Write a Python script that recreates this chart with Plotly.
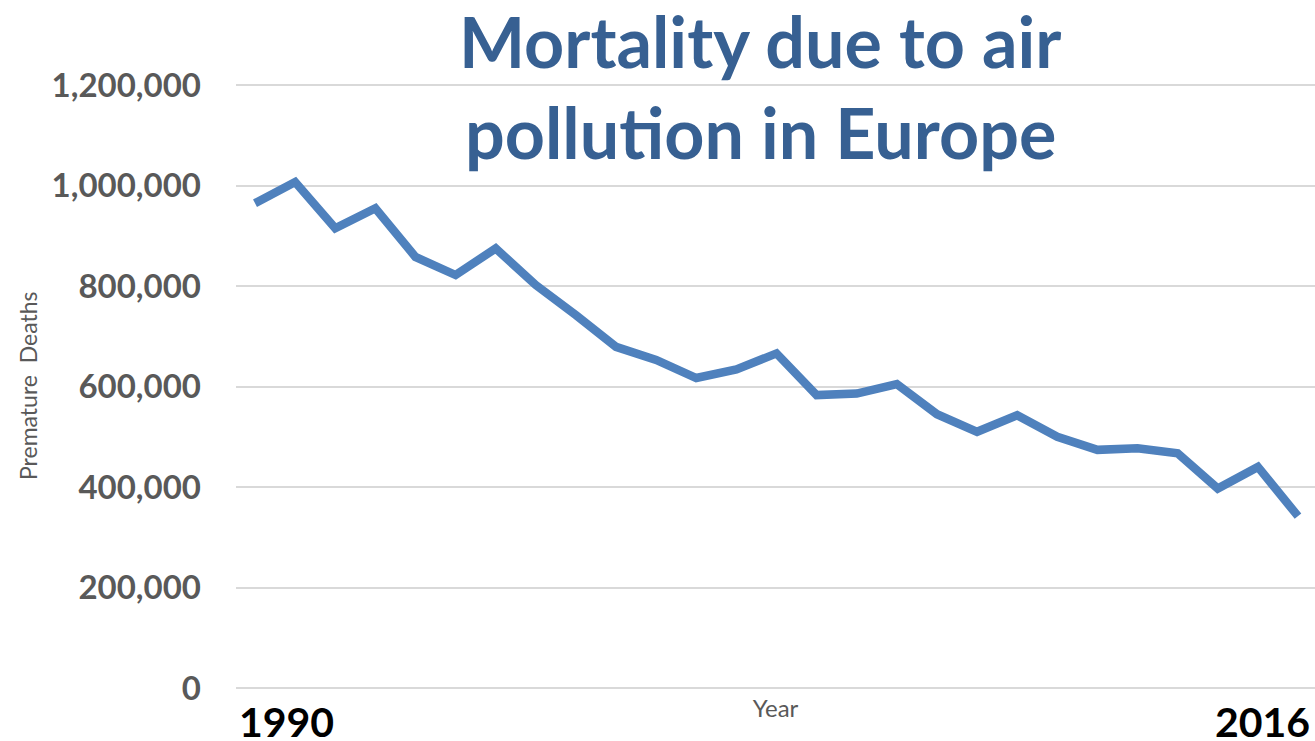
import plotly.graph_objects as go

years = list(range(1990, 2017))
deaths = [965000, 1007000, 915000, 955000, 858000, 822000, 875000, 802000, 742000,
          679000, 653000, 617000, 634000, 666000, 583000, 586000, 605000, 545000,
          510000, 543000, 500000, 474000, 477000, 467000, 397000, 440000, 342000]
y_ticks = [0, 200000, 400000, 600000, 800000, 1000000, 1200000]
y_tick_text = ["0", "200,000", "400,000", "600,000", "800,000", "1,000,000", "1,200,000"]
title_lines = ["Mortality due to air", "pollution in Europe"]
y_title = "Premature\u00a0\u00a0Deaths"
x_title = "Year"
first_label, last_label = "1990", "2016"

W, H = 1315, 741
L, R, T, B = 236, 0, 60, 53
PW, PH = W - L - R, H - T - B

fig = go.Figure()
fig.add_trace(go.Scatter(
    x=years, y=deaths, mode="lines",
    line=dict(color="#4F81BD", width=8.5),
    hoverinfo="x+y", showlegend=False,
))

fig.update_layout(
    width=W, height=H,
    margin=dict(l=L, r=R, t=T, b=B, pad=0),
    paper_bgcolor="white", plot_bgcolor="white",
    font=dict(family="Lato, 'Open Sans', sans-serif", color="#595959"),
)

fig.update_xaxes(
    range=[1989.526, 2016.424],
    showgrid=False, zeroline=False, showline=False,
    showticklabels=False, ticks="",
    title=dict(text=x_title, font=dict(size=24, color="#595959"), standoff=12),
)
fig.update_yaxes(
    range=[0, 1250000],
    tickmode="array", tickvals=y_ticks, ticktext=y_tick_text,
    tickfont=dict(size=33, color="#595959", family="Lato, sans-serif", weight="bold"),
    ticklabelstandoff=34,
    showgrid=True, gridcolor="#D9D9D9", gridwidth=2,
    zeroline=True, zerolinecolor="#D9D9D9", zerolinewidth=2,
    showline=False, ticks="",
)

# y-axis title placed as rotated text
fig.add_annotation(
    text=y_title, textangle=-90,
    xref="paper", yref="paper",
    x=(28 - L) / PW, y=1 - (386 - T) / PH,
    xanchor="center", yanchor="middle", showarrow=False,
    font=dict(size=23, color="#595959", family="Lato, sans-serif"),
)

title_centers = [41, 132]
for line, cy in zip(title_lines, title_centers):
    fig.add_annotation(
        text="<b>" + line + "</b>",
        xref="paper", yref="paper",
        x=(760 - L) / PW, y=1 - (cy - T) / PH,
        xanchor="center", yanchor="middle", showarrow=False,
        font=dict(size=70, color="#376092", family="Lato, sans-serif"),
    )
fig.add_annotation(
    text="<b>" + first_label + "</b>", xref="x", yref="paper",
    x=years[0], xshift=-18, y=-0.054, xanchor="left", yanchor="middle",
    showarrow=False, font=dict(size=41, color="black", family="Lato, sans-serif"),
)
fig.add_annotation(
    text="<b>" + last_label + "</b>", xref="x", yref="paper",
    x=years[-1], xshift=14, y=-0.054, xanchor="right", yanchor="middle",
    showarrow=False, font=dict(size=41, color="black", family="Lato, sans-serif"),
)

fig.write_html(
    "out.html",
    config={"displayModeBar": False},
    post_script="document.body.style.margin='0';document.body.style.overflow='hidden';",
)
